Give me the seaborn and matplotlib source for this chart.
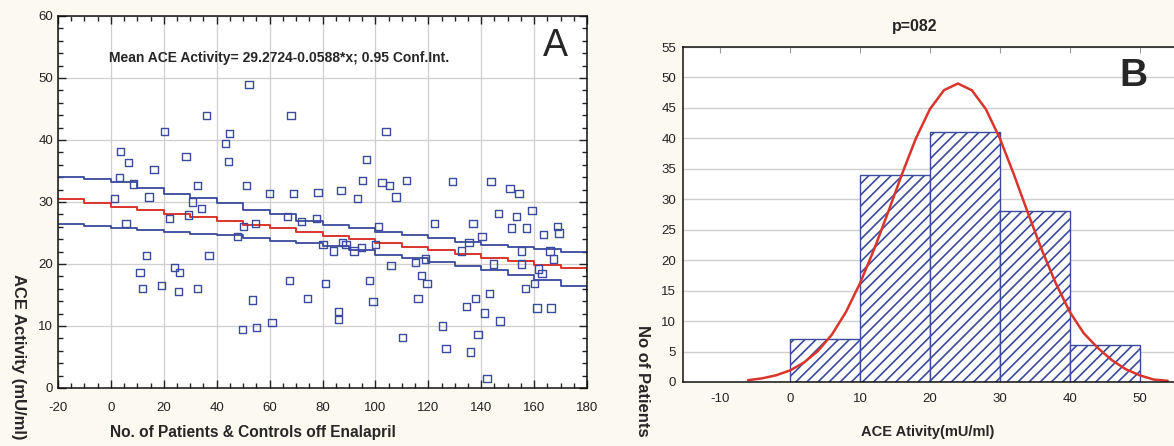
import matplotlib
matplotlib.use("Agg")
import matplotlib.pyplot as plt
import seaborn as sns
from matplotlib.ticker import MultipleLocator

# ---------------- data: panel A ----------------
ace_x = [52.2, 36.3, 68.1, 20.1, 45.0, 43.5, 104.0, 3.8, 44.3, 6.5, 28.4, 96.8, 16.3, 3.4, 8.4,
         32.9, 51.1, 95.0, 102.5, 111.6, 129.3, 143.7, 105.5, 150.9, 59.8, 69.2, 78.3, 87.0, 154.3,
         1.2, 14.4, 93.4, 107.8, 31.0, 34.4, 159.2, 146.7, 153.2, 22.3, 29.5, 66.6, 71.9, 77.9,
         5.7, 50.3, 54.5, 101.0, 122.5, 136.9, 151.6, 157.3, 168.7, 169.4, 163.7, 140.3, 47.7,
         135.4, 80.2, 87.7, 88.9, 99.9, 94.6, 84.3, 91.9, 132.7, 155.4, 166.0, 167.5, 13.3, 37.1,
         115.0, 119.1, 105.9, 144.8, 155.4, 161.5, 163.0, 11.0, 23.9, 26.1, 117.6, 119.5, 97.6,
         81.3, 67.5, 160.3, 156.9, 11.8, 19.3, 25.4, 32.6, 143.3, 137.7, 116.1, 74.5, 53.7, 99.1,
         134.3, 161.1, 166.4, 85.9, 141.1, 85.9, 147.1, 60.9, 125.2, 55.2, 49.6, 138.8, 110.4,
         126.7, 136.1, 142.2]
ace_y = [48.9, 44.0, 44.0, 41.3, 41.0, 39.5, 41.4, 38.2, 36.6, 36.3, 37.3, 36.9, 35.3, 33.9, 32.9,
         32.7, 32.7, 33.5, 33.1, 33.5, 33.3, 33.3, 32.6, 32.2, 31.3, 31.3, 31.5, 31.8, 31.4,
         30.5, 30.8, 30.5, 30.8, 30.0, 29.0, 28.7, 28.2, 27.7, 27.3, 27.9, 27.6, 26.9, 27.4,
         26.6, 26.0, 26.6, 26.0, 26.6, 26.6, 25.8, 25.8, 26.0, 25.0, 24.7, 24.4, 24.4,
         23.4, 23.1, 23.4, 23.1, 23.1, 22.7, 22.1, 22.1, 22.1, 22.1, 22.1, 20.8, 21.3, 21.3,
         20.3, 20.8, 19.7, 20.0, 20.0, 19.2, 18.4, 18.7, 19.4, 18.7, 18.2, 16.9, 17.4,
         16.9, 17.4, 16.9, 16.1, 16.1, 16.5, 15.6, 16.1, 15.2, 14.5, 14.5, 14.4, 14.2, 13.9,
         13.1, 12.9, 12.9, 12.3, 12.1, 11.1, 10.8, 10.6, 10.0, 9.8, 9.5, 8.7, 8.2,
         6.3, 5.8, 1.6]

fit_x = [-20, -10, 0, 10, 20, 30, 40, 50, 60, 70, 80, 90, 100, 110, 120, 130, 140, 150, 160, 170, 180]
fit_mean = [30.45, 29.86, 29.27, 28.68, 28.10, 27.51, 26.92, 26.33, 25.74, 25.16, 24.57,
            23.98, 23.39, 22.80, 22.22, 21.63, 21.04, 20.45, 19.86, 19.28, 18.69]
fit_upper = [34.1, 33.7, 33.2, 32.3, 31.3, 30.6, 29.8, 28.7, 28.0, 27.0, 26.3,
             25.8, 25.2, 24.6, 24.2, 23.5, 23.0, 22.8, 22.4, 22.0, 21.7]
fit_lower = [26.4, 26.1, 25.8, 25.5, 25.1, 24.9, 24.6, 24.2, 23.7, 23.4, 22.9,
             22.2, 21.4, 20.9, 20.3, 19.7, 19.0, 18.2, 17.4, 16.5, 15.5]

# ---------------- data: panel B ----------------
bin_edges = [0, 10, 20, 30, 40, 50]
bin_mids = [5, 15, 25, 35, 45]
bin_counts = [7, 34, 41, 28, 6]
curve_x = [-6, -4, -2, 0, 2, 4, 6, 8, 10, 12, 14, 16, 18, 20, 22, 24, 26, 28, 30, 32, 34, 36,
           38, 40, 42, 44, 46, 48, 50, 52, 54]
curve_y = [0.3, 0.6, 1.1, 1.9, 3.2, 5.1, 7.8, 11.5, 16.2, 21.7, 27.8, 34.1, 40.0, 44.8, 47.9, 49.0,
           47.9, 44.8, 40.0, 34.1, 27.8, 21.7, 16.2, 11.5, 8.0, 5.6, 3.6, 2.1, 1.1, 0.4, 0.2]

# ---------------- style ----------------
sns.set_style("white")
plt.rcParams['font.family'] = ['Liberation Sans', 'DejaVu Sans']
plt.rcParams['hatch.linewidth'] = 1.2
plt.rcParams['axes.unicode_minus'] = False

BG = '#fcf9f1'
BLUE = '#3a4a9c'
RED = '#d9352c'
FAM = ['Liberation Sans', 'DejaVu Sans']

W, H = 1174, 446
fig = plt.figure(figsize=(W / 100, H / 100), dpi=100, facecolor=BG)

# ---------------- panel A ----------------
axA = fig.add_axes([58 / W, 1 - 388 / H, (587 - 58) / W, (388 - 16) / H])
axA.set_facecolor('white')

for yv in (fit_upper, fit_lower):
    sns.lineplot(x=fit_x, y=yv, ax=axA, color=BLUE, lw=1.3, drawstyle='steps-post')
sns.lineplot(x=fit_x, y=fit_mean, ax=axA, color=RED, lw=1.4, drawstyle='steps-post')

sns.scatterplot(x=ace_x, y=ace_y, ax=axA, marker='s', s=26, linewidth=1.0, zorder=3)
coll = axA.collections[-1]
coll.set_facecolor('none')
coll.set_edgecolor(BLUE)

axA.set_xlim(-20, 180)
axA.set_ylim(0, 60)
axA.xaxis.set_major_locator(MultipleLocator(20))
axA.xaxis.set_minor_locator(MultipleLocator(5))
axA.yaxis.set_major_locator(MultipleLocator(10))
axA.yaxis.set_minor_locator(MultipleLocator(2))
axA.tick_params(which='both', direction='in', top=True, right=True, bottom=True, left=True,
                colors='#222222', labelsize=9.5, labelfontfamily='Liberation Sans')
axA.tick_params(which='major', length=6, width=1)
axA.tick_params(which='minor', length=3.5, width=1)
axA.tick_params(axis='x', pad=10)
axA.grid(True, which='major', color='#cfcfcf', lw=0.9)
for s in axA.spines.values():
    s.set_color('#111111')
    s.set_linewidth(1.1)
axA.set_xlabel('')
axA.set_ylabel('')

fig.text(109 / W, 1 - 58 / H, 'Mean ACE Activity= 29.2724-0.0588*x; 0.95 Conf.Int.',
         family=FAM, fontweight='bold', fontsize=10, ha='left', va='center')
fig.text(555 / W, 1 - 46 / H, 'A', fontsize=27, ha='center', va='center')
fig.text(253 / W, 1 - 432 / H, 'No. of Patients & Controls off Enalapril',
         family=FAM, fontweight='bold', fontsize=11.2, ha='center', va='center')
fig.text(18 / W, 1 - 274 / H, 'ACE Activity (mU/ml)', family=FAM, fontweight='bold',
         fontsize=12, rotation=270, ha='center', va='top')

# ---------------- panel B ----------------
axB = fig.add_axes([683 / W, 1 - 382 / H, (1174 - 683) / W, (382 - 47) / H])
axB.set_facecolor('white')
sns.histplot(x=bin_mids, weights=bin_counts, bins=bin_edges, ax=axB,
             facecolor='white', edgecolor=BLUE, hatch='///', linewidth=1.0)
sns.lineplot(x=curve_x, y=curve_y, ax=axB, color=RED, lw=1.8)

axB.set_xlim(-15.3, 54.9)
axB.set_ylim(0, 55)
axB.xaxis.set_major_locator(MultipleLocator(10))
axB.yaxis.set_major_locator(MultipleLocator(5))
axB.set_axisbelow(True)
axB.grid(True, axis='y', color='#cfcfcf', lw=1.0)
axB.grid(False, axis='x')
axB.tick_params(axis='y', direction='out', length=3, colors='#222222', labelsize=9.5, pad=2,
                labelfontfamily='Liberation Sans')
axB.tick_params(axis='x', bottom=False, top=True, direction='in', length=4, color='#999999',
                labelcolor='#222222', labelsize=9.5, pad=8, labelfontfamily='Liberation Sans')
for name, s in axB.spines.items():
    s.set_color('#111111')
    s.set_linewidth(1.1)
axB.spines['right'].set_visible(False)
axB.set_xlabel('')
axB.set_ylabel('')

fig.text(915 / W, 1 - 27 / H, 'p=082', family=FAM, fontweight='bold', fontsize=11.5,
         ha='center', va='center')
fig.text(1133 / W, 1 - 76 / H, 'B', family=FAM, fontsize=28, fontweight='bold',
         ha='center', va='center')
fig.text(928 / W, 1 - 432 / H, 'ACE Ativity(mU/ml)', family=FAM, fontweight='bold',
         fontsize=10.5, ha='center', va='center')
fig.text(642 / W, 1 - 325 / H, 'No of Patients', family=FAM, fontweight='bold', fontsize=12,
         rotation=270, ha='center', va='top')

fig.savefig('out.png', dpi=100, facecolor=BG)
